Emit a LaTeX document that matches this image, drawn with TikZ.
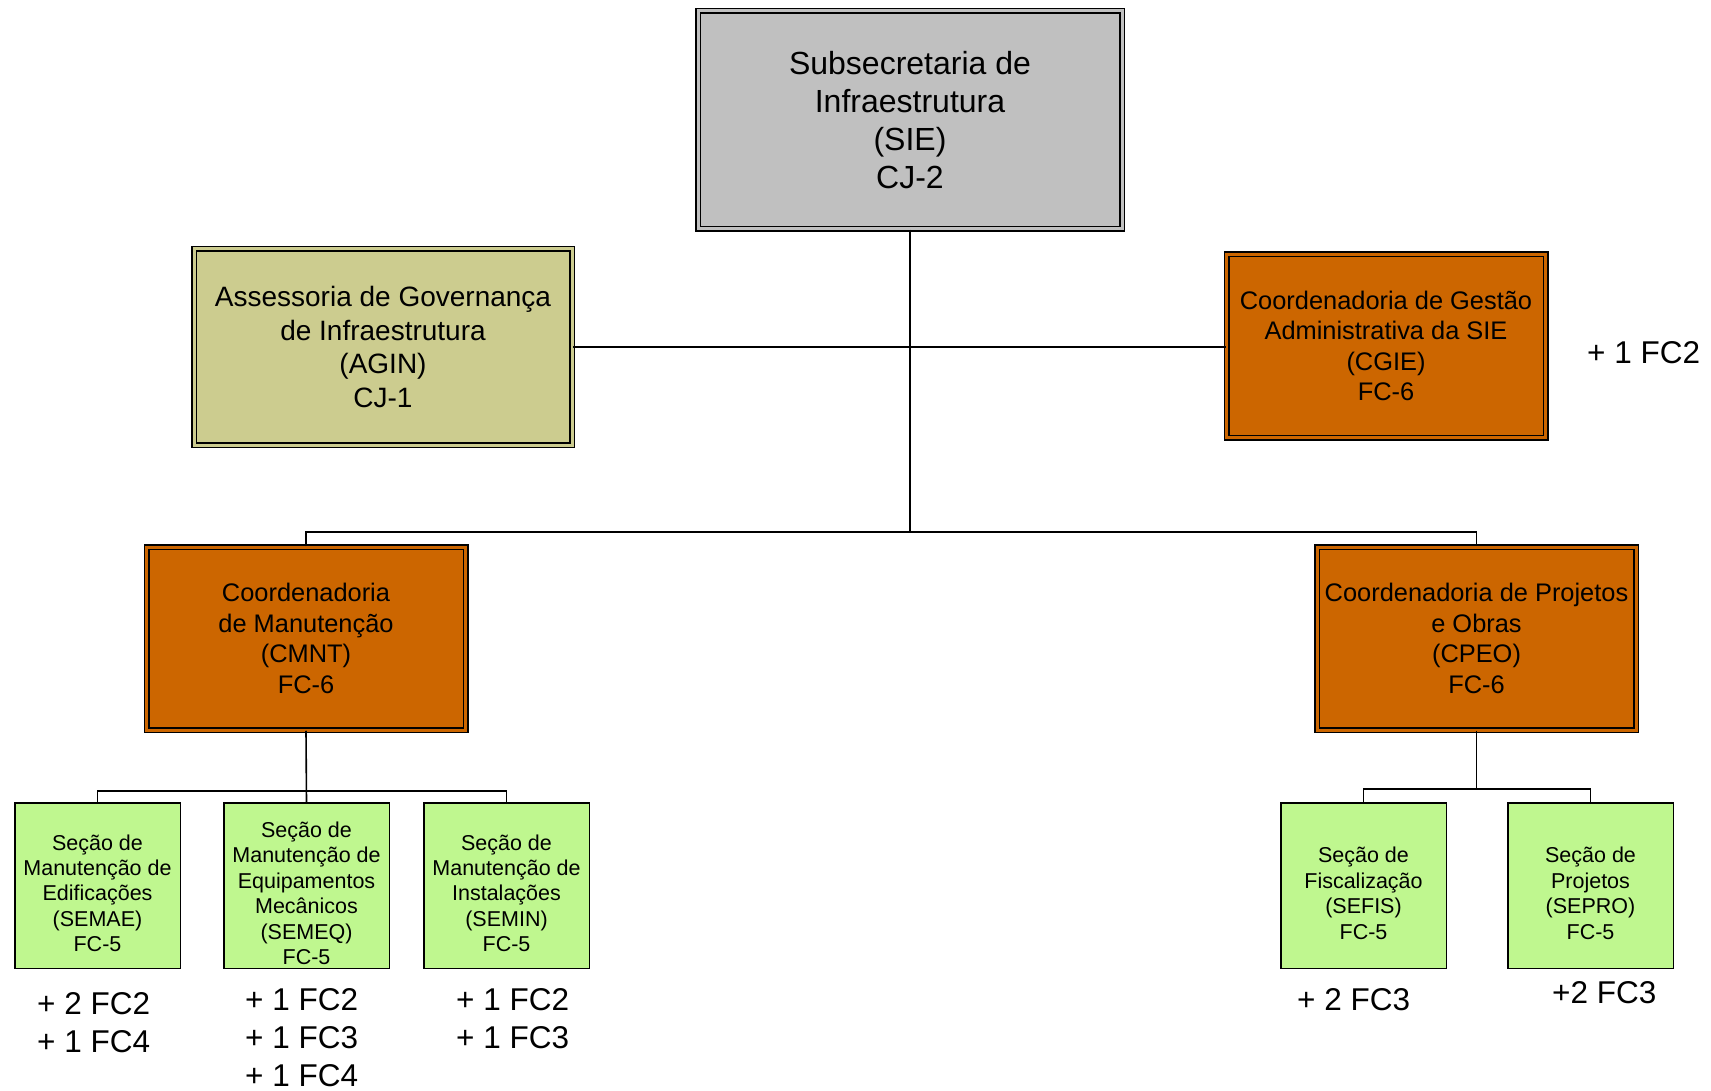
\documentclass[tikz,border=0pt]{standalone}
\usepackage{fontspec}
\setmainfont{Liberation Sans}
\definecolor{sgray}{HTML}{C0C0C0}
\definecolor{agold}{HTML}{CCCC8F}
\definecolor{orng}{HTML}{CC6600}
\definecolor{lgreen}{HTML}{BFF78F}
\newcommand{\topgap}{\rule{0pt}{31pt}}
\begin{document}
\begin{tikzpicture}[x=1pt,y=-1pt,
  conn/.style={line width=1.6pt},
  dbl/.style={draw=black, line width=1.5pt, double distance=3pt, inner sep=0pt, align=center},
  siebox/.style={dbl, fill=sgray, double=sgray, minimum width=424pt, minimum height=218pt, font=\fontsize{32}{38}\selectfont},
  aginbox/.style={dbl, fill=agold, double=agold, minimum width=378pt, minimum height=196pt, font=\fontsize{28}{33.5}\selectfont},
  coordbox/.style={dbl, fill=orng, double=orng, minimum width=319pt, minimum height=183pt, font=\fontsize{25.4}{30.5}\selectfont},
  secbox/.style={draw=black, line width=1.5pt, fill=lgreen, inner sep=0pt, align=center, minimum width=165.5pt, minimum height=165.5pt, font=\fontsize{21.5}{25.4}\selectfont},
  extra/.style={inner sep=0pt, align=left, font=\fontsize{31.5}{37.8}\selectfont}
]
\useasboundingbox (0,0) rectangle (1711,1091);

\node[siebox] (SIE) at (910,120) {Subsecretaria de\\Infraestrutura\\(SIE)\\CJ-2};
\node[aginbox] (AGIN) at (383,347) {Assessoria de Governança\\de Infraestrutura\\(AGIN)\\CJ-1};
\node[coordbox] (CGIE) at (1386,346) {Coordenadoria de Gestão\\Administrativa da SIE\\(CGIE)\\FC-6};
\node[coordbox] (CMNT) at (306,638.5) {Coordenadoria\\de Manutenção\\(CMNT)\\FC-6};
\node[coordbox] (CPEO) at (1476.5,638.5) {Coordenadoria de Projetos\\e Obras\\(CPEO)\\FC-6};

\node[secbox] (SEMAE) at (97.5,885.5) {\topgap Seção de\\Manutenção de\\Edificações\\(SEMAE)\\FC-5};
\node[secbox] (SEMEQ) at (306.5,885.5) {\topgap Seção de\\Manutenção de\\Equipamentos\\Mecânicos\\(SEMEQ)\\FC-5};
\node[secbox] (SEMIN) at (506.5,885.5) {\topgap Seção de\\Manutenção de\\Instalações\\(SEMIN)\\FC-5};
\node[secbox] (SEFIS) at (1363.5,885.5) {\topgap Seção de\\Fiscalização\\(SEFIS)\\FC-5};
\node[secbox] (SEPRO) at (1590.5,885.5) {\topgap Seção de\\Projetos\\(SEPRO)\\FC-5};

\node[extra, anchor=west] (xCGIE) at (1587,353) {+ 1 FC2};
\node[extra, anchor=west] (xSEMAE) at (37,1023) {+ 2 FC2\\+ 1 FC4};
\node[extra, anchor=west] (xSEMEQ) at (245,1037.5) {+ 1 FC2\\+ 1 FC3\\+ 1 FC4};
\node[extra, anchor=west] (xSEMIN) at (456,1019) {+ 1 FC2\\+ 1 FC3};
\node[extra, anchor=west] (xSEFIS) at (1297,1000) {+ 2 FC3};
\node[extra, anchor=west] (xSEPRO) at (1552,993) {+2 FC3};

\coordinate (j) at (910,532);
\coordinate (k) at (306.5,791);
\coordinate (m) at (1476.5,789);

\draw[conn] (SIE.south) -- (SIE.south |- j);
\draw[conn] (AGIN.east) -- (CGIE.west |- AGIN.east);
\draw[conn] (CMNT.north) |- (j) -| (CPEO.north);
\draw[conn] (CMNT.south) -- (SEMEQ.north);
\draw[conn] (SEMAE.north) |- (k) -| (SEMIN.north);
\draw[conn] (CPEO.south) -- (m);
\draw[conn] (SEFIS.north) |- (m) -| (SEPRO.north);
\end{tikzpicture}
\end{document}
